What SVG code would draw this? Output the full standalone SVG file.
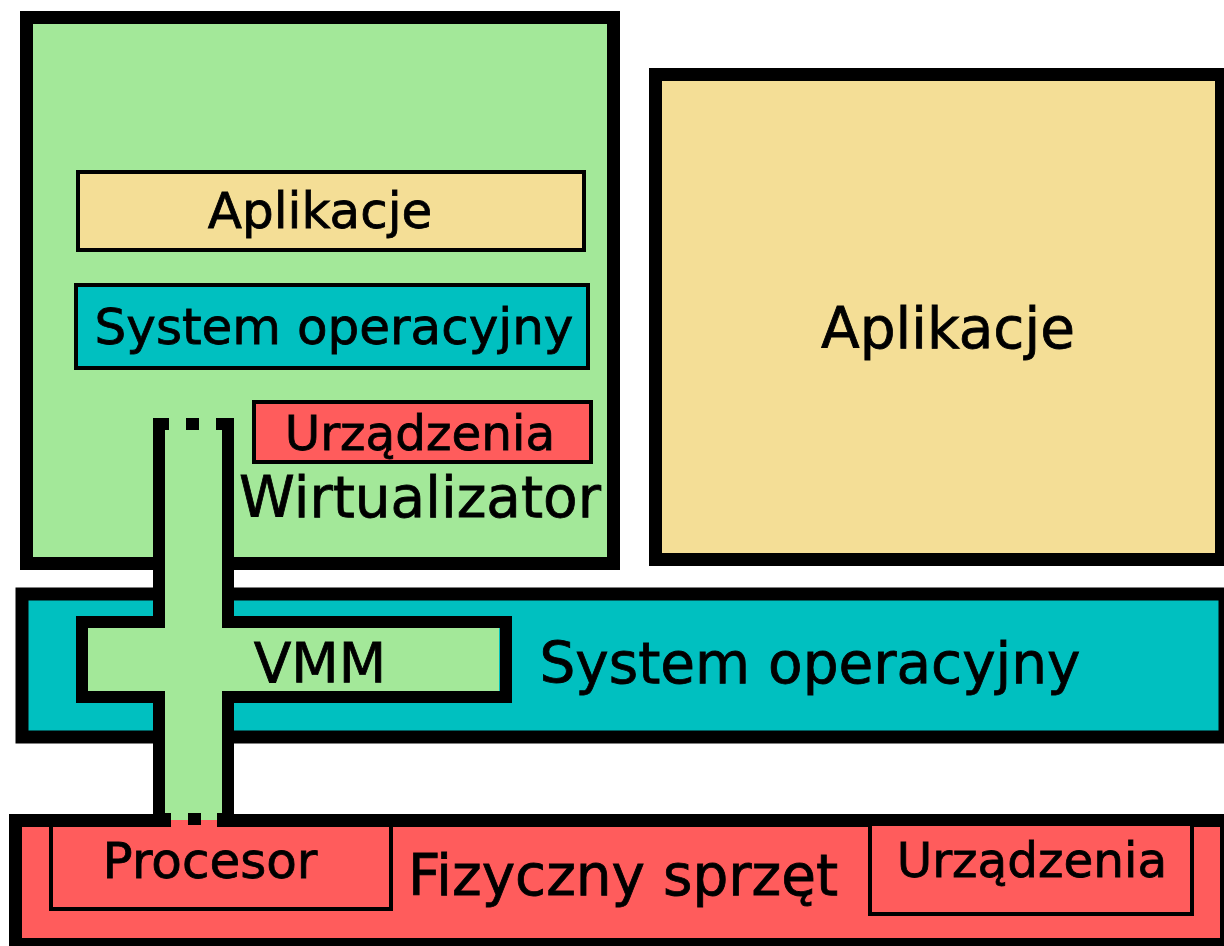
<svg xmlns="http://www.w3.org/2000/svg" width="1224" height="946" viewBox="0 0 1224 946">
  <style>
    .frame { stroke: #000; stroke-width: 13; }
    .inner { stroke: #000; stroke-width: 4; }
    .green { fill: #a3e899; }
    .beige { fill: #f4de96; }
    .teal { fill: #00c0c0; }
    .red { fill: #ff5c5c; }
    .label { font-family: "DejaVu Sans", Verdana, sans-serif; fill: #000; stroke: #000; stroke-width: 0.8; text-anchor: middle; }
    .edge { fill: none; stroke: #000; stroke-width: 12; }
  </style>

  <rect width="1224" height="946" fill="#fff"/>

  <!-- Guest machine (virtualizer window) -->
  <g id="guest">
    <rect class="frame green" x="26.5" y="17.5" width="587" height="546"/>
    <rect class="inner beige" x="78" y="172" width="506" height="78"/>
    <text class="label" x="320" y="228" font-size="50">Aplikacje</text>
    <rect class="inner teal" x="76" y="285" width="512" height="83"/>
    <text class="label" x="334" y="344" font-size="50">System operacyjny</text>
    <rect class="inner red" x="254" y="402" width="337" height="60"/>
    <text class="label" x="420" y="450" font-size="48.5">Urządzenia</text>
    <text class="label" x="420" y="517" font-size="56.5">Wirtualizator</text>
  </g>

  <!-- Host applications -->
  <g id="host-apps">
    <rect class="frame beige" x="655.5" y="74.5" width="566" height="485"/>
    <text class="label" x="948" y="348" font-size="56.5">Aplikacje</text>
  </g>

  <!-- Host operating system -->
  <g id="host-os">
    <rect class="frame teal" x="22" y="594" width="1203" height="143"/>
    <text class="label" x="810" y="683" font-size="56.5">System operacyjny</text>
  </g>

  <!-- Physical hardware -->
  <g id="hardware">
    <rect class="frame red" x="15.5" y="820.5" width="1211" height="124"/>
    <rect class="inner red" x="51" y="825" width="340" height="84"/>
    <text class="label" x="210" y="878" font-size="50">Procesor</text>
    <rect class="inner red" x="870" y="824" width="322" height="90"/>
    <text class="label" x="1032" y="877" font-size="48.5">Urządzenia</text>
    <text class="label" x="623" y="895" font-size="56.5">Fizyczny sprzęt</text>
  </g>

  <!-- VMM: cross-shaped channel from the guest down to the processor -->
  <g id="vmm">
    <path class="green" d="M165,430 H222 V628 H499 V691 H222 V813 H165 V691 H88 V628 H165 Z"/>
    <path class="edge" d="M159,418 V622 H82 V697 H159 V820"/>
    <path class="edge" d="M228,418 V622 H506 V697 H228 V820"/>
    <!-- broken top edge -->
    <rect x="153" y="418" width="16" height="12" fill="#000"/>
    <rect x="186" y="418" width="13" height="12" fill="#000"/>
    <rect x="216" y="418" width="18" height="12" fill="#000"/>
    <!-- broken bottom edge where the channel opens into the processor -->
    <rect x="165" y="813" width="57" height="12" fill="#000"/>
    <rect class="green" x="171" y="813" width="17" height="7"/>
    <rect class="green" x="201" y="813" width="16" height="7"/>
    <rect class="red" x="171" y="820" width="17" height="5"/>
    <rect class="red" x="201" y="820" width="16" height="5"/>
    <rect class="red" x="171" y="825" width="46" height="4"/>
    <text class="label" x="320" y="682" font-size="55">VMM</text>
  </g>
</svg>
